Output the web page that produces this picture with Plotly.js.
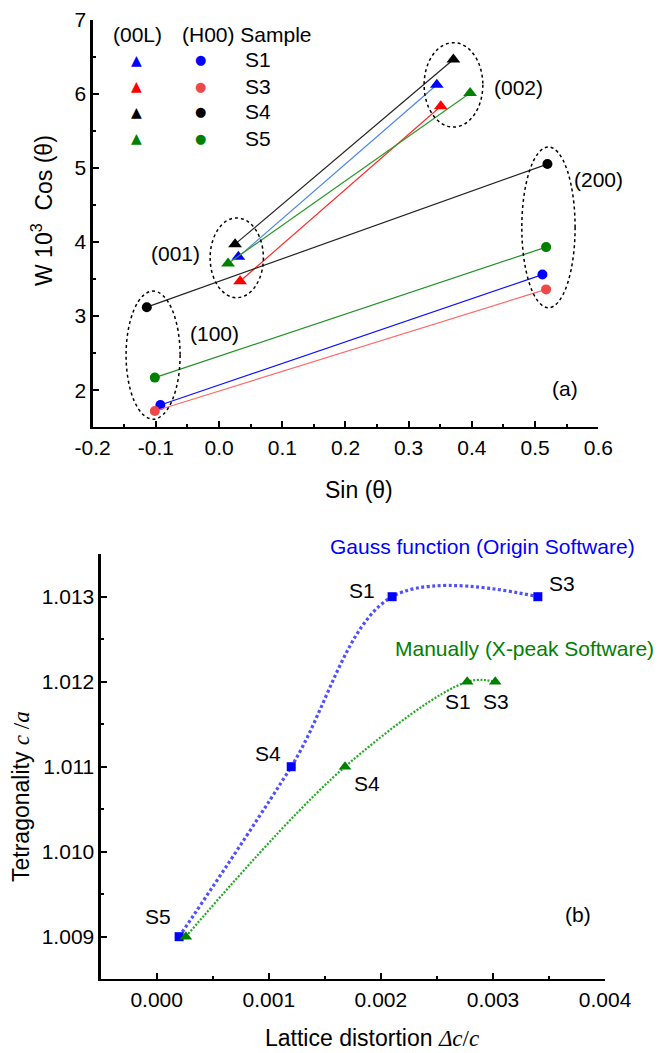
<!DOCTYPE html>
<html>
<head>
<meta charset="utf-8">
<script src="https://cdn.plot.ly/plotly-3.0.1.min.js"></script>
<style>
  html, body { margin: 0; padding: 0; background: #ffffff; }
  #chart { width: 661px; height: 1053px; }
</style>
</head>
<body>
<div id="chart"></div>
<script>
// ---------- Panel (a): Williamson–Hall style plot ----------
const samples = ['S1', 'S3', 'S4', 'S5'];

// (00L) reflections: (001) and (002)
const sin001 = [0.0305, 0.0332, 0.0253, 0.0142];
const wcos001 = [3.80, 3.47, 3.97, 3.71];
const sin002 = [0.3445, 0.3508, 0.3707, 0.3972];
const wcos002 = [6.12, 5.83, 6.46, 6.01];

// (H00) reflections: (100) and (200)
const sin100 = [-0.0929, -0.1017, -0.1144, -0.1017];
const wcos100 = [1.80, 1.72, 3.12, 2.17];
const sin200 = [0.5116, 0.5174, 0.5195, 0.5174];
const wcos200 = [3.56, 3.36, 5.05, 3.93];

// reflection groups circled with dotted ellipses: [xmin, xmax, ymin, ymax]
const groupNames = ['(002)', '(200)', '(001)', '(100)'];
const groupBoxes = [
  [0.3244, 0.4173, 5.549, 6.688],
  [0.4790, 0.5633, 3.113, 5.280],
  [-0.0142, 0.0701, 3.248, 4.324],
  [-0.1472, -0.0617, 1.610, 3.337]
];
const groupLabelAt = [[0.473, 6.087], [0.5997, 4.84], [-0.0688, 3.844], [-0.0079, 2.763]];

const xTicksA = [-0.2, -0.1, 0.0, 0.1, 0.2, 0.3, 0.4, 0.5, 0.6];
const xTickTextA = ['-0.2', '-0.1', '0.0', '0.1', '0.2', '0.3', '0.4', '0.5', '0.6'];
const yTicksA = [2, 3, 4, 5, 6, 7];

// ---------- Panel (b): tetragonality vs lattice distortion ----------
const gaussLabels = ['S5', 'S4', 'S1', 'S3'];
const gaussDistortion = [0.0002, 0.0012, 0.0021, 0.0034];
const gaussTetragonality = [1.009, 1.011, 1.013, 1.013];

const manualLabels = ['', 'S4', 'S1', 'S3'];
const manualDistortion = [0.00026, 0.00168, 0.00277, 0.00302];
const manualTetragonality = [1.009, 1.011, 1.012, 1.012];

const xTicksB = [0.000, 0.001, 0.002, 0.003, 0.004];
const xTickTextB = ['0.000', '0.001', '0.002', '0.003', '0.004'];
const yTicksB = [1.009, 1.010, 1.011, 1.012, 1.013];
const yTickTextB = ['1.009', '1.010', '1.011', '1.012', '1.013'];

// ---------- styling ----------
const FONT = 'Liberation Sans, Arial, sans-serif';
const SERIF = 'Liberation Serif';
const FS = 21;
const FS_TITLE = 23;
const W = 661, H = 1053;

const triColors = ['#0000ff', '#ff0000', '#000000', '#008000'];
const triLineColors = ['#4a86e8', '#ff2a2a', '#222222', '#2a9a2a'];
const dotColors = ['#0000ff', '#f04848', '#000000', '#008000'];
const dotLineColors = ['#1010ff', '#ff6a6a', '#222222', '#229022'];

const traces = [];
samples.forEach((s, i) => {
  traces.push({
    x: [sin001[i], sin002[i]], y: [wcos001[i], wcos002[i]],
    mode: 'lines+markers', xaxis: 'x', yaxis: 'y', showlegend: false,
    line: { color: triLineColors[i], width: 1.2 },
    marker: { symbol: 'triangle-up', size: 12, color: triColors[i] },
    cliponaxis: false
  });
  traces.push({
    x: [sin100[i], sin200[i]], y: [wcos100[i], wcos200[i]],
    mode: 'lines+markers', xaxis: 'x', yaxis: 'y', showlegend: false,
    line: { color: dotLineColors[i], width: 1.2 },
    marker: { symbol: 'circle', size: 10, color: dotColors[i] },
    cliponaxis: false
  });
});

traces.push({
  x: gaussDistortion, y: gaussTetragonality,
  mode: 'lines', xaxis: 'x2', yaxis: 'y2', showlegend: false,
  line: { color: '#5050ff', width: 3.2, dash: '3px,2.5px', shape: 'spline', smoothing: 1 }
});
traces.push({
  x: manualDistortion, y: manualTetragonality,
  mode: 'lines', xaxis: 'x2', yaxis: 'y2', showlegend: false,
  line: { color: '#22aa22', width: 2.2, dash: '2px,1.6px', shape: 'spline', smoothing: 1 }
});
traces.push({
  x: gaussDistortion, y: gaussTetragonality,
  mode: 'markers', xaxis: 'x2', yaxis: 'y2', showlegend: false,
  marker: { symbol: 'square', size: 9, color: '#0000ff' }, cliponaxis: false
});
traces.push({
  x: manualDistortion, y: manualTetragonality,
  mode: 'markers', xaxis: 'x2', yaxis: 'y2', showlegend: false,
  marker: { symbol: 'triangle-up', size: 11, color: '#008000' }, cliponaxis: false
});

function axisBase() {
  return {
    showline: true, linecolor: '#000', linewidth: 2.2, mirror: false,
    showgrid: false, zeroline: false,
    ticks: 'inside', ticklen: 6, tickwidth: 2, tickcolor: '#000',
    tickfont: { family: FONT, size: FS, color: '#000' },
    fixedrange: true
  };
}

const px2x = (px) => px / W;
const px2y = (py) => 1 - py / H;

const layout = {
  width: W, height: H,
  margin: { l: 0, r: 0, t: 0, b: 0 },
  paper_bgcolor: '#ffffff', plot_bgcolor: 'rgba(0,0,0,0)',
  showlegend: false,
  font: { family: FONT, size: FS, color: '#000' },
  xaxis: Object.assign(axisBase(), {
    domain: [0.14024, 0.90514], anchor: 'y', range: [-0.2, 0.6],
    tickmode: 'array', tickvals: xTicksA, ticktext: xTickTextA,
    minor: { tickmode: 'linear', tick0: -0.2, dtick: 0.05, ticks: 'inside', ticklen: 3.5, tickwidth: 2, tickcolor: '#000' }
  }),
  yaxis: Object.assign(axisBase(), {
    domain: [0.59421, 0.98148], anchor: 'x', range: [1.5, 7],
    tickmode: 'array', tickvals: yTicksA, ticktext: yTicksA.map(String),
    minor: { tickmode: 'linear', tick0: 1.5, dtick: 0.5, ticks: 'inside', ticklen: 3.5, tickwidth: 2, tickcolor: '#000' }
  }),
  xaxis2: Object.assign(axisBase(), {
    domain: [0.15227, 0.91543], anchor: 'y2', range: [-0.0005, 0.004],
    tickmode: 'array', tickvals: xTicksB, ticktext: xTickTextB,
    minor: { tickmode: 'linear', tick0: 0, dtick: 0.0005, ticks: 'inside', ticklen: 3.5, tickwidth: 2, tickcolor: '#000' }
  }),
  yaxis2: Object.assign(axisBase(), {
    domain: [0.07009, 0.47369], anchor: 'x2', range: [1.0085, 1.0135],
    tickmode: 'array', tickvals: yTicksB, ticktext: yTickTextB,
    minor: { tickmode: 'linear', tick0: 1.0085, dtick: 0.0005, ticks: 'inside', ticklen: 3.5, tickwidth: 2, tickcolor: '#000' }
  }),
  shapes: [],
  annotations: []
};

// dotted ellipses around reflection groups
groupBoxes.forEach((b) => {
  layout.shapes.push({
    type: 'circle', xref: 'x', yref: 'y',
    x0: b[0], x1: b[1], y0: b[2], y1: b[3],
    line: { color: '#000', width: 1.5, dash: 'dot' }
  });
});

const ann = (o) => layout.annotations.push(Object.assign({
  showarrow: false, xanchor: 'center', yanchor: 'middle',
  font: { family: FONT, size: FS, color: '#000' }
}, o));

groupNames.forEach((g, i) => ann({ xref: 'x', yref: 'y', x: groupLabelAt[i][0], y: groupLabelAt[i][1], text: g }));
ann({ xref: 'x', yref: 'y', x: 0.5475, y: 2.023, text: '(a)' });

// legend table of panel (a)
ann({ xref: 'paper', yref: 'paper', x: px2x(137), y: px2y(34), text: '(00L)' });
ann({ xref: 'paper', yref: 'paper', x: px2x(246.7), y: px2y(34), text: '(H00) Sample' });
const legendRows = [60, 86, 112, 138];
samples.forEach((s, i) => {
  ann({ xref: 'paper', yref: 'paper', x: px2x(136), y: px2y(legendRows[i]), text: '▲',
        font: { family: 'DejaVu Sans', size: 14, color: triColors[i] } });
  ann({ xref: 'paper', yref: 'paper', x: px2x(201), y: px2y(legendRows[i]), text: '●',
        font: { family: 'DejaVu Sans', size: 13, color: dotColors[i] } });
  ann({ xref: 'paper', yref: 'paper', x: px2x(243), y: px2y(legendRows[i]), xanchor: 'left', text: s });
});

// axis titles
const titleFont = { family: FONT, size: FS_TITLE, color: '#000' };
ann({ xref: 'paper', yref: 'paper', x: px2x(42), y: px2y(211), textangle: -90, font: titleFont,
      text: 'W 10<sup>3</sup>  Cos (θ)' });
ann({ xref: 'paper', yref: 'paper', x: px2x(359), y: px2y(490), font: titleFont, text: 'Sin (θ)' });
ann({ xref: 'paper', yref: 'paper', x: px2x(21), y: px2y(797), textangle: -90, font: titleFont,
      text: 'Tetragonality <span style="font-family:' + SERIF + '"><i>c</i> /<i>a</i></span>' });
ann({ xref: 'paper', yref: 'paper', x: px2x(372.5), y: px2y(1038), font: titleFont,
      text: 'Lattice distortion <span style="font-family:' + SERIF + '"><i>Δc</i>/<i>c</i></span>' });

// panel (b) series names
ann({ xref: 'paper', yref: 'paper', x: px2x(482), y: px2y(546), text: 'Gauss function (Origin Software)',
      font: { family: FONT, size: FS, color: '#0000ff' } });
ann({ xref: 'paper', yref: 'paper', x: px2x(524), y: px2y(648.3), text: 'Manually (X-peak Software)',
      font: { family: FONT, size: FS, color: '#008000' } });
ann({ xref: 'x2', yref: 'y2', x: 0.00376, y: 1.00926, text: '(b)' });

// sample labels next to points (pixel offsets)
const gaussLabelShift = [[-21, 20], [-23, 13], [-30, 6], [24, 13]];
const manualLabelShift = [[0, 0], [22, -17], [-9, -20], [1, -20]];
gaussLabels.forEach((t, i) => {
  if (!t) return;
  ann({ xref: 'x2', yref: 'y2', x: gaussDistortion[i], y: gaussTetragonality[i], text: t,
        xshift: gaussLabelShift[i][0], yshift: gaussLabelShift[i][1] });
});
manualLabels.forEach((t, i) => {
  if (!t) return;
  ann({ xref: 'x2', yref: 'y2', x: manualDistortion[i], y: manualTetragonality[i], text: t,
        xshift: manualLabelShift[i][0], yshift: manualLabelShift[i][1] });
});

Plotly.newPlot('chart', traces, layout, { staticPlot: true, displayModeBar: false });
</script>
</body>
</html>
